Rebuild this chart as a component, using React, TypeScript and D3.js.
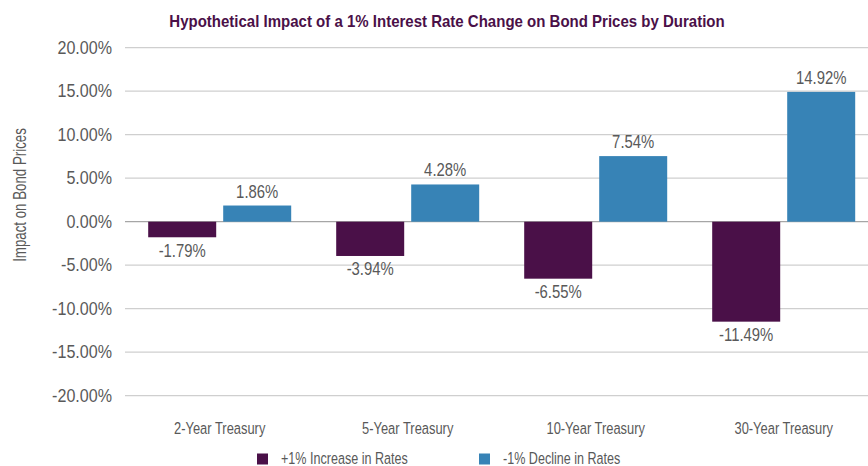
import React from "react";
import * as d3 from "d3";

const categories = ["2-Year Treasury", "5-Year Treasury", "10-Year Treasury", "30-Year Treasury"];
const seriesNames = ["+1% Increase in Rates", "-1% Decline in Rates"];
const increaseValues = [-1.79, -3.94, -6.55, -11.49];
const declineValues = [1.86, 4.28, 7.54, 14.92];
const yTicks = [20, 15, 10, 5, 0, -5, -10, -15, -20];
const colors = ["#4a1048", "#3783b6"];

const W = 868;
const H = 466;
const SANS = "'Liberation Sans', Arial, sans-serif";
const TXT = "#595959";

type TProps = {
  x: number;
  y: number;
  sx: number;
  size: number;
  anchor?: "start" | "middle" | "end";
  rotate?: number;
  weight?: string;
  fill?: string;
  children: React.ReactNode;
};

function T({ x, y, sx, size, anchor = "start", rotate = 0, weight = "normal", fill = TXT, children }: TProps) {
  return (
    <text
      transform={`translate(${x},${y}) rotate(${rotate}) scale(${sx},1)`}
      textAnchor={anchor}
      fontFamily={SANS}
      fontSize={size}
      fontWeight={weight}
      fill={fill}
    >
      {children}
    </text>
  );
}

export default function App() {
  const x = d3.scaleBand<string>().domain(categories).range([125.7, 877.7]).paddingInner(0).paddingOuter(0);
  const xs = d3.scaleBand<string>().domain(seriesNames).range([-71.5, 71.5]).paddingInner(2 - 143 / 75);
  const y = d3.scaleLinear().domain([-20, 20]).range([395.7, 47.7]);
  const seriesVals = [increaseValues, declineValues];
  const fmt = (v: number) => v.toFixed(2) + "%";

  return (
    <svg width={W} height={H} style={{ position: "absolute", left: 0, top: 0, background: "#fff" }}>
      <T x={447} y={27} sx={0.91} size={16.5} anchor="middle" weight="bold" fill="#4a1048">
        Hypothetical Impact of a 1% Interest Rate Change on Bond Prices by Duration
      </T>
      {yTicks.map((t) => (
        <g key={t}>
          <line x1={125} x2={W} y1={y(t)} y2={y(t)} stroke={t === 0 ? "#a6a6a6" : "#cfcfcf"} strokeWidth={1.3} />
          <T x={112} y={y(t) + 6} sx={0.92} size={17.5} anchor="end">
            {fmt(t)}
          </T>
        </g>
      ))}
      <T x={26} y={195} sx={0.76} size={17.5} anchor="middle" rotate={-90}>
        Impact on Bond Prices
      </T>
      {categories.map((c, i) => (
        <g key={c} transform={`translate(${(x(c) as number) + x.bandwidth() / 2},0)`}>
          {seriesNames.map((s, j) => {
            const v = seriesVals[j][i];
            const x0 = xs(s) as number;
            const top = Math.min(y(v), y(0));
            const h = Math.abs(y(v) - y(0));
            const cx = x0 + xs.bandwidth() / 2;
            return (
              <g key={s}>
                <rect x={x0} y={top} width={xs.bandwidth()} height={h} fill={colors[j]} />
                <T x={cx} y={v >= 0 ? y(v) - 8 : y(v) + 19.5} sx={0.85} size={17.5} anchor="middle">
                  {fmt(v)}
                </T>
              </g>
            );
          })}
          <T x={0} y={434} sx={0.76} size={17} anchor="middle">
            {c}
          </T>
        </g>
      ))}
      {seriesNames.map((s, j) => {
        const lx = [257, 479][j];
        return (
          <g key={s}>
            <rect x={lx} y={453.5} width={11} height={11} fill={colors[j]} />
            <T x={lx + 24} y={464} sx={0.74} size={17}>
              {s}
            </T>
          </g>
        );
      })}
    </svg>
  );
}
